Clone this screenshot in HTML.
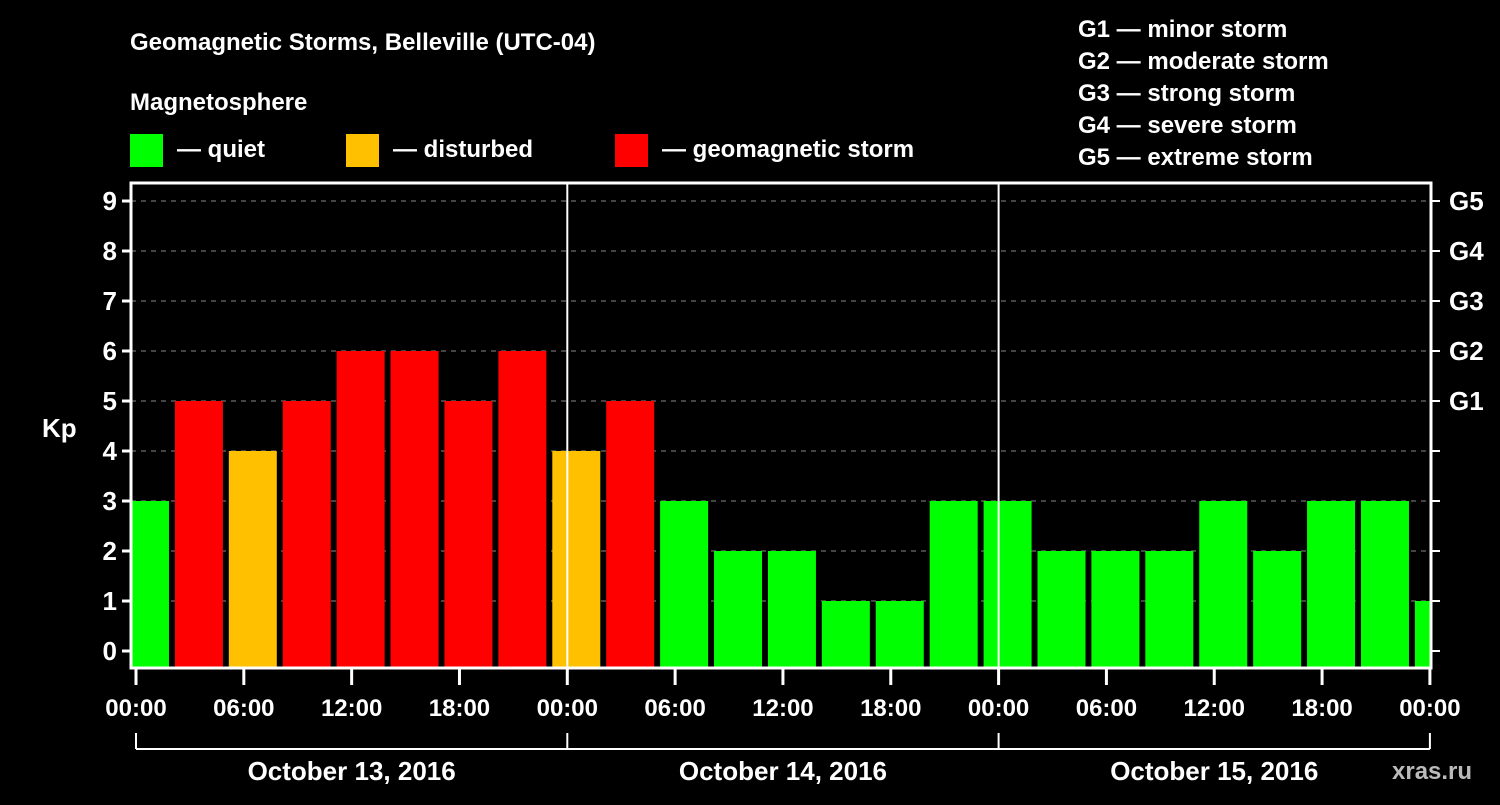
<!DOCTYPE html>
<html><head><meta charset="utf-8"><style>
body{margin:0;background:#000;width:1500px;height:800px;overflow:hidden}
svg text{font-family:"Liberation Sans",sans-serif;font-weight:bold;fill:#fff}
</style></head><body>
<svg id="c" width="1500" height="800">
<text x="130" y="50" font-size="24">Geomagnetic Storms, Belleville (UTC-04)</text>
<text x="130" y="110" font-size="24">Magnetosphere</text>
<g><rect x="130" y="134" width="33" height="33" fill="#00ff00"/><text x="177" y="157" font-size="24">— quiet</text></g>
<g><rect x="346" y="134" width="33" height="33" fill="#ffc000"/><text x="393" y="157" font-size="24">— disturbed</text></g>
<g><rect x="615" y="134" width="33" height="33" fill="#ff0000"/><text x="662" y="157" font-size="24">— geomagnetic storm</text></g>
<g font-size="24">
<text x="1078" y="37">G1 — minor storm</text><text x="1078" y="69">G2 — moderate storm</text><text x="1078" y="101">G3 — strong storm</text><text x="1078" y="133">G4 — severe storm</text><text x="1078" y="165">G5 — extreme storm</text></g>
<text x="42" y="437" font-size="26">Kp</text>
<text x="1392" y="779" font-size="24" fill="#bbb" style="fill:#bbb">xras.ru</text>
</svg>
<script>
const kpValues=[3,5,4,5,6,6,5,6,4,5,3,2,2,1,1,3,3,2,2,2,3,2,3,3,1];
const yTicks=[0,1,2,3,4,5,6,7,8,9];
const gLabels=["G1","G2","G3","G4","G5"];
const xTickLabels=["00:00","06:00","12:00","18:00","00:00","06:00","12:00","18:00","00:00","06:00","12:00","18:00","00:00"];
const dayLabels=["October 13, 2016","October 14, 2016","October 15, 2016"];
const NS="http://www.w3.org/2000/svg",svg=document.getElementById('c');
const X0=136,DAY=431.3,L=131,R=1431,T=183,B=668;
const xh=h=>X0+h*DAY/24, y=v=>651-v*50;
function el(t,a,p){const e=document.createElementNS(NS,t);for(const k in a)e.setAttribute(k,a[k]);(p||svg).appendChild(e);return e;}
const defs=el('defs',{});const cp=el('clipPath',{id:'pc'},defs);el('rect',{x:L+1,y:T,width:R-L-2,height:B-T},cp);
yTicks.forEach(v=>{if(v>0){const g=el('line',{x1:L,x2:R,y1:y(v),y2:y(v),stroke:'#888','stroke-dasharray':'5,5'});

}
const t=el('text',{x:L-14,y:y(v)+9,'font-size':'26','text-anchor':'end'});t.textContent=v;


el('line',{x1:L-9,x2:L,y1:y(v),y2:y(v),stroke:'#fff','stroke-width':3});
el('line',{x1:R,x2:R+9,y1:y(v),y2:y(v),stroke:'#fff','stroke-width':2});});
gLabels.forEach((g,i)=>{const t=el('text',{x:1449,y:y(5+i)+9,'font-size':'26'});t.textContent=g;

});
const bg=el('g',{'clip-path':'url(#pc)'});
kpValues.forEach((v,i)=>{const c=xh(-1+3*i+1.5);const col=v>=5?'#ff0000':v>=4?'#ffc000':'#00ff00';
const b=el('rect',{x:c-24,y:y(v),width:48,height:y(0)-y(v)+16,fill:col},bg);

});
el('rect',{x:L,y:T,width:R-L,height:B-T,fill:'none',stroke:'#fff','stroke-width':3});
[1,2].forEach(d=>el('line',{x1:xh(24*d),x2:xh(24*d),y1:T,y2:B,stroke:'#fff','stroke-width':2}));
xTickLabels.forEach((s,i)=>{const x=xh(6*i);el('line',{x1:x,x2:x,y1:B,y2:B+17,stroke:'#fff','stroke-width':3});
const t=el('text',{x:x,y:716,'font-size':'24','text-anchor':'middle'});t.textContent=s;

});
el('line',{x1:xh(0),x2:xh(72),y1:749,y2:749,stroke:'#fff','stroke-width':2});
[0,1,2,3].forEach(d=>el('line',{x1:xh(24*d),x2:xh(24*d),y1:733,y2:749,stroke:'#fff','stroke-width':2}));
dayLabels.forEach((s,i)=>{const t=el('text',{x:xh(24*i+12),y:780,'font-size':'26','text-anchor':'middle'});t.textContent=s;

});
</script></body></html>
